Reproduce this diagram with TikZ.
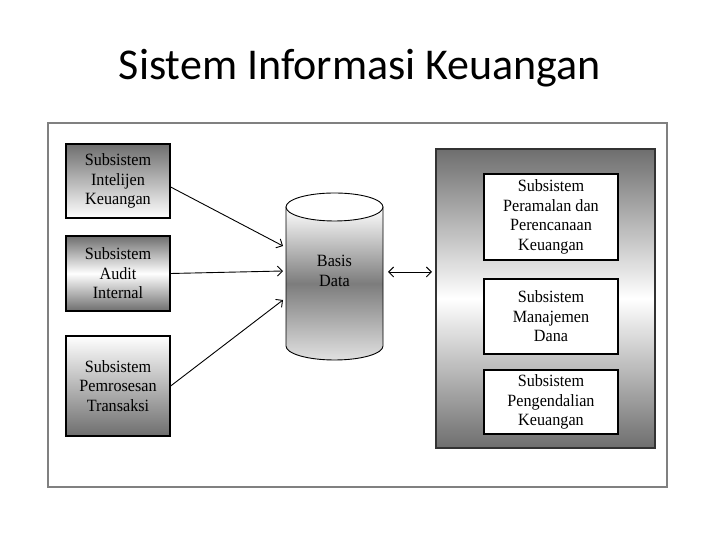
\documentclass[tikz,border=0pt]{standalone}
\usepackage{fontspec}
\setmainfont{Liberation Serif}
\newfontfamily\boxfont[FakeStretch=0.94]{Liberation Serif}
\newfontfamily\titlefont{Carlito}
\usetikzlibrary{arrows.meta}
\definecolor{dk}{HTML}{6E6E6E}
\definecolor{frm}{HTML}{808080}
\begin{document}
\begin{tikzpicture}[x=1pt,y=1pt,
  lbl/.style={font=\boxfont\fontsize{17.2}{19.5}\selectfont, align=center},
  sbox/.style={lbl, draw=black, line width=1.3pt, inner sep=0pt},
  conn/.style={line width=0.9pt, -{Straight Barb[length=5pt,width=10pt]}},
  darktop/.style={top color=dk, bottom color=white},
  darkbottom/.style={top color=white, bottom color=dk},
  darkends/.style={top color=dk, bottom color=dk, middle color=white}
]
\useasboundingbox (0,0) rectangle (720,540);
\node[font=\titlefont\fontsize{44}{52}\selectfont] (title) at (360,472) {Sistem Informasi Keuangan};
\draw[frm, line width=1.3pt] (48,53) rectangle (667,417);
% left boxes
\node[sbox, minimum width=104pt, minimum height=74pt, darktop] (b1) at (118,359) {Subsistem\\Intelijen\\Keuangan};
\node[sbox, minimum width=104pt, minimum height=75pt, darkends] (b2) at (118,266.5) {Subsistem\\Audit\\Internal};
\node[sbox, minimum width=104pt, minimum height=100pt, darkbottom] (b3) at (118,154) {Subsistem\\Pemrosesan\\Transaksi};
% cylinder
\path[draw=black, line width=0.9pt, top color=white, bottom color=white!88!black, middle color=dk!90]
  (286,333) -- (286,194) arc[start angle=180, end angle=360, x radius=48.5, y radius=14] -- (383,333) -- cycle;
\draw[line width=0.9pt, fill=white] (334.5,333) ellipse[x radius=48.5, y radius=14];
\node[lbl] (db) at (334.5,269) {Basis\\Data};
\coordinate (in1) at (283,294);
\coordinate (in2) at (283,269);
\coordinate (in3) at (283,240);
\coordinate (dbR) at (388,268);
% right panel
\node[draw=black!80, line width=1.3pt, minimum width=219pt, minimum height=299pt, darkends] (rp) at (545.5,241.5) {};
\coordinate (rpL) at (432,268);
\node[sbox, fill=white, minimum width=134pt, minimum height=86pt] (r1) at (551,323) {Subsistem\\Peramalan dan\\Perencanaan\\Keuangan};
\node[sbox, fill=white, minimum width=134pt, minimum height=75pt] (r2) at (551,223.5) {Subsistem\\Manajemen\\Dana};
\node[sbox, fill=white, minimum width=134pt, minimum height=64pt] (r3) at (551,138) {Subsistem\\Pengendalian\\Keuangan};
% connectors
\draw[conn] (b1.east) ++(0,-6) -- (in1);
\draw[conn] (b2.east) -- (in2);
\draw[conn] (b3.east) -- (in3);
\draw[line width=0.9pt, {Straight Barb[length=5pt,width=10pt]}-{Straight Barb[length=5pt,width=10pt]}] (dbR) -- (rpL);
\end{tikzpicture}
\end{document}
